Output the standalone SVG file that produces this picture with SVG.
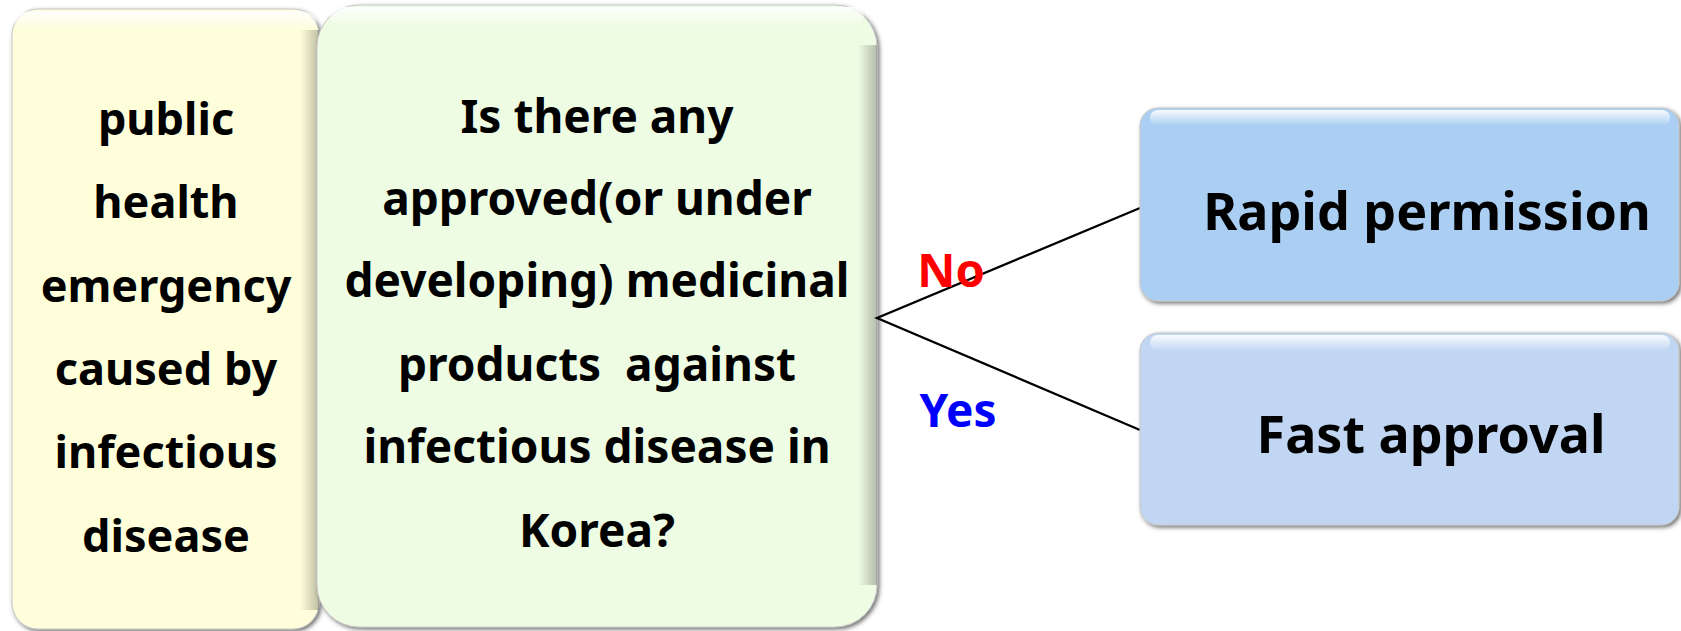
<svg xmlns="http://www.w3.org/2000/svg" width="1681" height="631" viewBox="0 0 1681 631">
<defs>
<filter id="sh" x="-5%" y="-5%" width="110%" height="110%">
<feGaussianBlur in="SourceAlpha" stdDeviation="2"/>
<feOffset dx="2" dy="2" result="b"/>
<feFlood flood-color="#404040" flood-opacity="0.75"/>
<feComposite in2="b" operator="in"/>
<feMerge><feMergeNode/><feMergeNode in="SourceGraphic"/></feMerge>
</filter>
<linearGradient id="hl" x1="0" y1="0" x2="0" y2="1">
<stop offset="0" stop-color="#fff" stop-opacity="0.9"/>
<stop offset="1" stop-color="#fff" stop-opacity="0"/>
</linearGradient>
<linearGradient id="rs" x1="0" y1="0" x2="1" y2="0">
<stop offset="0" stop-color="#000" stop-opacity="0"/>
<stop offset="1" stop-color="#000" stop-opacity="0.25"/>
</linearGradient>
</defs>
<style>
.t{font-family:"Noto Sans","Open Sans","Liberation Sans",sans-serif;font-weight:bold;text-anchor:middle;fill:#000;white-space:pre}
.b{font-size:46px}
.l{font-size:45px}
.big{font-size:52px}
.edge{stroke:#c8c8c8;stroke-width:1}
.ln{stroke:#000;stroke-width:2.3;fill:none}
</style>
<rect width="1681" height="631" fill="#fff"/>
<g id="node-emergency">
<rect x="12" y="9" width="307" height="620" rx="26" fill="#FEFEDA" class="edge" filter="url(#sh)"/>
<rect x="14" y="11" width="303" height="20" rx="20" fill="url(#hl)"/>
<rect x="300" y="30" width="19" height="580" fill="url(#rs)"/>
<text class="t l" x="166" y="135">public</text>
<text class="t l" x="166" y="218">health</text>
<text class="t l" x="166" y="302">emergency</text>
<text class="t l" x="166" y="385">caused by</text>
<text class="t l" x="166" y="468">infectious</text>
<text class="t l" x="166" y="552">disease</text>
</g>
<g id="node-question">
<rect x="317" y="5" width="560" height="622" rx="42" fill="#EEFCE4" class="edge" filter="url(#sh)"/>
<rect x="330" y="7" width="534" height="20" rx="10" fill="url(#hl)"/>
<rect x="858" y="45" width="19" height="540" fill="url(#rs)"/>
<text class="t b" x="597" y="133">Is there any</text>
<text class="t b" x="597" y="215">approved(or under</text>
<text class="t b" x="597" y="297">developing) medicinal</text>
<text class="t b" x="597" y="381">products  against</text>
<text class="t b" x="597" y="463">infectious disease in</text>
<text class="t b" x="597" y="547">Korea?</text>
</g>
<g id="connectors">
<polyline class="ln" points="1140,208 877,318 1140,430"/>
<text class="t" x="951" y="287" font-size="47" style="fill:#FF0000">No</text>
<text class="t" x="958" y="427" font-size="46" style="fill:#0000FF">Yes</text>
</g>
<g id="node-rapid">
<rect x="1140" y="108" width="539" height="193" rx="18" fill="#AACFF2" class="edge" filter="url(#sh)"/>
<rect x="1150" y="110" width="520" height="16" rx="8" fill="url(#hl)"/>
<text class="t big" x="1427" y="230">Rapid permission</text>
</g>
<g id="node-fast">
<rect x="1140" y="333" width="539" height="192" rx="18" fill="#C1D6F3" class="edge" filter="url(#sh)"/>
<rect x="1150" y="335" width="520" height="16" rx="8" fill="url(#hl)"/>
<text class="t big" x="1431" y="453">Fast approval</text>
</g>
</svg>
